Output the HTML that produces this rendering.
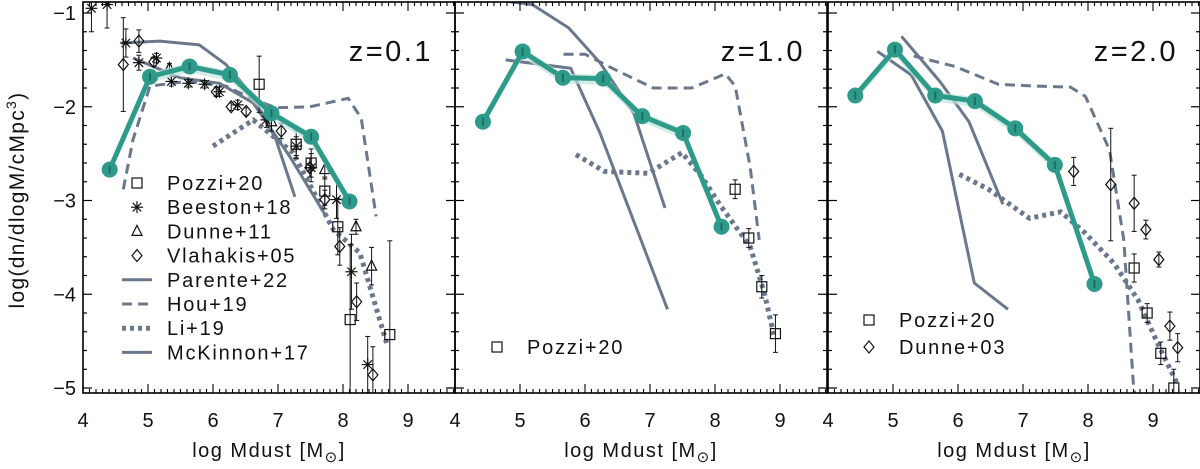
<!DOCTYPE html>
<html><head><meta charset="utf-8"><style>
html,body{margin:0;padding:0;background:#fff;}
svg{display:block;font-family:"Liberation Sans",sans-serif;}
</style></head><body>
<svg id="chart" width="1200" height="469" viewBox="0 0 1200 469" xmlns="http://www.w3.org/2000/svg"></svg>
<script>
// ---------- data ----------
const xTicks=[4,5,6,7,8,9];
const yTicks=[-1,-2,-3,-4,-5];
const yTickLabels=["\u22121","\u22122","\u22123","\u22124","\u22125"];
const panelLabels=["z=0.1","z=1.0","z=2.0"];

const teal1X=[4.41,5.03,5.64,6.26,6.90,7.51,8.10];
const teal1Y=[-2.67,-1.68,-1.57,-1.66,-2.07,-2.32,-3.01];
const teal2X=[4.43,5.04,5.66,6.28,6.88,7.51,8.10];
const teal2Y=[-2.16,-1.41,-1.69,-1.70,-2.10,-2.28,-3.28];
const teal3X=[4.42,5.03,5.65,6.26,6.88,7.49,8.10];
const teal3Y=[-1.88,-1.39,-1.88,-1.94,-2.23,-2.62,-3.89];

const parente1X=[4.59,5.18,5.79,6.20,6.62,6.97,7.26];
const parente1Y=[-1.32,-1.30,-1.34,-1.55,-1.89,-2.35,-2.96];
const mckinnon1X=[4.77,5.49,6.10,6.62,7.18,7.74];
const mckinnon1Y=[-1.48,-1.69,-1.75,-1.96,-2.53,-3.17];
const hou1X=[4.62,4.77,5.03,5.59,6.20,6.62,6.97,7.49,8.08,8.28,8.51];
const hou1Y=[-2.88,-2.35,-1.78,-1.73,-1.78,-1.92,-2.01,-2.00,-1.91,-2.12,-3.17];
const li1X=[6.00,6.62,7.23,7.85,8.26,8.67];
const li1Y=[-2.42,-2.14,-2.49,-3.31,-3.56,-4.52];

const parente2X=[4.50,5.19,5.75,6.23,6.75,7.23];
const parente2Y=[-0.85,-0.91,-1.16,-1.53,-2.07,-3.08];
const mckinnon2X=[4.78,5.78,6.23,7.27];
const mckinnon2Y=[-1.50,-1.59,-2.28,-4.16];
const hou2X=[5.67,6.00,6.45,7.05,7.64,8.16,8.31,8.54,8.68];
const hou2Y=[-1.44,-1.44,-1.60,-1.80,-1.80,-1.65,-1.78,-2.64,-3.42];
const li2X=[5.86,6.30,6.97,7.49,7.79,8.09,8.54,8.76,8.91];
const li2Y=[-2.51,-2.69,-2.71,-2.49,-2.74,-3.06,-3.49,-3.99,-4.45];

const parente3X=[5.13,5.72,6.17,6.69];
const parente3Y=[-1.25,-1.73,-2.16,-3.04];
const mckinnon3X=[4.76,5.28,5.76,6.25,6.77];
const mckinnon3Y=[-1.41,-1.66,-2.26,-3.88,-4.16];
const hou3X=[5.32,5.95,6.62,7.21,7.73,7.96,8.33,8.55,8.70,8.75];
const hou3Y=[-1.46,-1.57,-1.76,-1.78,-1.79,-1.89,-2.46,-3.42,-4.98,-5.2];
const li3X=[6.02,6.47,7.10,7.58,7.96,8.40,8.77,9.07,9.37];
const li3Y=[-2.72,-2.88,-3.19,-3.12,-3.35,-3.67,-4.06,-4.52,-4.95];

const pozzi1X=[6.71,7.28,7.51,7.72,7.92,8.11,8.72];
const pozzi1Y=[-1.76,-2.40,-2.60,-2.90,-3.28,-4.27,-4.43];
const pozzi1E=[0.3,0.15,0.15,0.15,0.3,0.8,1.0];
const beestonX=[4.13,4.37,4.66,4.86,5.13,5.36,5.62,5.87,6.10,6.38,6.82,7.28,7.51,7.90,8.13,8.38];
const beestonY=[-0.95,-0.91,-1.32,-1.53,-1.48,-1.73,-1.75,-1.76,-1.84,-1.98,-2.14,-2.42,-2.65,-2.99,-3.76,-4.75];
const beestonE=[0.25,0.25,0.15,0.08,0.05,0.05,0.04,0.04,0.05,0.05,0.08,0.1,0.15,0.2,0.4,0.3];
const dunne11X=[5.33,6.90,7.72,8.20,8.44];
const dunne11Y=[-1.59,-2.16,-2.67,-3.28,-3.70];
const dunne11E=[0.05,0.1,0.1,0.08,0.2];
const vlahakisX=[4.62,4.86,5.09,6.05,6.28,6.51,7.05,7.49,7.72,7.95,8.21,8.46];
const vlahakisY=[-1.55,-1.30,-1.52,-1.84,-2.00,-2.05,-2.26,-2.65,-2.99,-3.49,-4.08,-4.86];
const vlahakisE=[0.5,0.12,0.05,0.05,0.04,0.04,0.08,0.1,0.1,0.2,0.2,0.3];

const pozzi2X=[8.31,8.52,8.72,8.93];
const pozzi2Y=[-2.88,-3.40,-3.92,-4.42];
const pozzi2E=[0.1,0.1,0.12,0.2];
const pozzi3X=[8.71,8.91,9.12,9.32];
const pozzi3Y=[-3.72,-4.20,-4.63,-5.00];
const pozzi3E=[0.15,0.1,0.12,0.2];
const dunne03X=[7.78,8.35,8.71,8.89,9.09,9.26,9.38];
const dunne03Y=[-2.69,-2.83,-3.03,-3.31,-3.63,-4.34,-4.57];
const dunne03E=[0.15,0.6,0.3,0.1,0.08,0.15,0.15];

// ---------- layout ----------
const NS="http://www.w3.org/2000/svg";
const svg=document.getElementById('chart');
const panelLeft=[83,455,828], panelW=372, PT=2, PB=393;
const XMIN=4, PXU=65;
const yv=v=>13+(-1-v)*93.75;
const GREY="#6b788c", TEAL="#2e9a8a";
function el(tag,attrs,parent){const e=document.createElementNS(NS,tag);for(const k in attrs)e.setAttribute(k,attrs[k]);(parent||svg).appendChild(e);return e;}

function drawPanel(i){
  const L=panelLeft[i], R=L+panelW;
  const xv=v=>L+(v-XMIN)*PXU;
  const g=el('g',{});
  
  
  const cp=el('clipPath',{id:'cp'+i},g);
  el('rect',{x:L,y:PT,width:panelW,height:PB-PT},cp);
  const plot=el('g',{'clip-path':'url(#cp'+i+')'},g);
  
  
  return {g,plot,L,R,xv};
}
function line(P,xs,ys,style,name){
  const d=xs.map((x,k)=>(k?'L':'M')+P.xv(x).toFixed(1)+','+yv(ys[k]).toFixed(1)).join('');
  const a={d,fill:'none',stroke:GREY,'stroke-width':3,'stroke-linejoin':'round'};
  if(style==='dash')a['stroke-dasharray']='10,6';
  if(style==='dot'){a['stroke-dasharray']='4,4';a['stroke-width']=5;}
  const p=el('path',a,P.plot);
  
  
}
function teal(P,xs,ys,name){
  const up=xs.map((x,k)=>P.xv(x)+','+(yv(ys[k])-4)).join(' ');
  const dn=xs.slice().reverse().map((x,k)=>P.xv(x)+','+(yv(ys[xs.length-1-k])+6)).join(' ');
  const band=el('polygon',{points:up+' '+dn,fill:'#bfe6da',opacity:0.7},P.plot);
  
  
  const d=xs.map((x,k)=>(k?'L':'M')+P.xv(x)+','+yv(ys[k])).join('');
  const p=el('path',{d,fill:'none',stroke:TEAL,'stroke-width':5,'stroke-linejoin':'round'},P.plot);
  
  
  xs.forEach((x,k)=>{
    const c=el('circle',{cx:P.xv(x),cy:yv(ys[k]),r:8,fill:TEAL},P.plot);
    
    
    el('line',{x1:P.xv(x),x2:P.xv(x),y1:yv(ys[k])-4,y2:yv(ys[k])+4,stroke:'#1d6e62','stroke-width':2},P.plot);
  });
}
function marker(parent,type,cx,cy){
  if(type==='sq')return el('rect',{x:cx-5,y:cy-5,width:10,height:10,fill:'none',stroke:'#111','stroke-width':1.2},parent);
  if(type==='dia')return el('path',{d:`M${cx},${cy-6}L${cx+5},${cy}L${cx},${cy+6}L${cx-5},${cy}Z`,fill:'none',stroke:'#111','stroke-width':1.2},parent);
  if(type==='tri')return el('path',{d:`M${cx},${cy-6}L${cx+5},${cy+4}L${cx-5},${cy+4}Z`,fill:'none',stroke:'#111','stroke-width':1.2},parent);
  const g=el('g',{stroke:'#111','stroke-width':1.2},parent);
  for(let a=0;a<180;a+=45){const r=a*Math.PI/180;el('line',{x1:cx-6*Math.cos(r),y1:cy-6*Math.sin(r),x2:cx+6*Math.cos(r),y2:cy+6*Math.sin(r)},g);}
  return g;
}
function points(P,xs,ys,es,type,name){
  xs.forEach((x,k)=>{
    const cx=P.xv(x),cy=yv(ys[k]);
    const g=el('g',{},P.plot);
    
    
    el('line',{x1:cx,x2:cx,y1:yv(ys[k]+es[k]),y2:yv(ys[k]-es[k]),stroke:'#111','stroke-width':1},g);
    el('line',{x1:cx-2.5,x2:cx+2.5,y1:yv(ys[k]+es[k]),y2:yv(ys[k]+es[k]),stroke:'#111','stroke-width':1},g);
    el('line',{x1:cx-2.5,x2:cx+2.5,y1:yv(ys[k]-es[k]),y2:yv(ys[k]-es[k]),stroke:'#111','stroke-width':1},g);
    marker(g,type,cx,cy);
  });
}
function axes(P,i){
  const L=P.L,R=P.R,g=P.g;
  const fr=el('rect',{x:L,y:PT,width:panelW,height:PB-PT,fill:'none',stroke:'#000','stroke-width':1.6},g);
  
  
  for(let v=4;v<=9.72;v+=0.1){const x=P.xv(v);const maj=Math.abs(v-Math.round(v))<0.01;const t=maj?9:4;
    el('line',{x1:x,x2:x,y1:PB,y2:PB-t,stroke:'#000','stroke-width':1.1},g);
    el('line',{x1:x,x2:x,y1:PT,y2:PT+t,stroke:'#000','stroke-width':1.1},g);}
  for(let v=-1;v>=-5.05;v-=0.2){const y=yv(v);const maj=Math.abs(v-Math.round(v))<0.01;const t=maj?9:4;
    el('line',{x1:L,x2:L+t,y1:y,y2:y,stroke:'#000','stroke-width':1.2},g);
    el('line',{x1:R,x2:R-t,y1:y,y2:y,stroke:'#000','stroke-width':1.2},g);}
  xTicks.forEach(v=>{
    const t=el('text',{x:P.xv(v),y:427,'font-size':20,'text-anchor':'middle',fill:'#111'},g);
    t.textContent=v;
    
    
  });
  if(i===0){
    yTicks.forEach((v,k)=>{
      const t=el('text',{x:76,y:yv(v)+7,'font-size':20,'text-anchor':'end',fill:'#111'},g);
      t.textContent=yTickLabels[k];
      
      
    });
  }
  const xt=el('text',{x:L+186,y:457,'font-size':20,'letter-spacing':1.5,'text-anchor':'middle',fill:'#111'},g);
  
  
  xt.innerHTML='log  Mdust  [M<tspan font-size="15" dy="5">\u2299</tspan><tspan dy="-5">]</tspan>';
  const zl=el('text',{x:R-22,y:61,'font-size':29,'letter-spacing':2.5,'text-anchor':'end',fill:'#111'},g);
  zl.textContent=panelLabels[i];
  
  
}
function legendItem(P,x,y,kind,label){
  const g=el('g',{},P.g);
  
  
  if(kind==='solid'||kind==='dash'||kind==='dot'){
    const a={x1:x-15,x2:x+15,y1:y,y2:y,stroke:GREY,'stroke-width':3};
    if(kind==='dash')a['stroke-dasharray']='10,6';
    if(kind==='dot'){a['stroke-dasharray']='4,4';a['stroke-width']=5;}
    el('line',a,g);
  } else marker(g,kind,x,y);
  const t=el('text',{x:x+30,y:y+7,'font-size':20,'letter-spacing':1.8,fill:'#111'},g);
  t.textContent=label;
}

// panel 1
let P=drawPanel(0);
line(P,li1X,li1Y,'dot','li19-line');
line(P,hou1X,hou1Y,'dash','hou19-line');
line(P,parente1X,parente1Y,'solid','parente22-line');
line(P,mckinnon1X,mckinnon1Y,'solid','mckinnon17-line');
points(P,beestonX,beestonY,beestonE,'star','beeston18');
points(P,vlahakisX,vlahakisY,vlahakisE,'dia','vlahakis05');
points(P,dunne11X,dunne11Y,dunne11E,'tri','dunne11');
points(P,pozzi1X,pozzi1Y,pozzi1E,'sq','pozzi20');
teal(P,teal1X,teal1Y,'model-z01');
axes(P,0);
[['sq','Pozzi+20'],['star','Beeston+18'],['tri','Dunne+11'],['dia','Vlahakis+05'],['solid','Parente+22'],['dash','Hou+19'],['dot','Li+19'],['solid','McKinnon+17']]
 .forEach((e,k)=>legendItem(P,137,183+k*24.2,e[0],e[1]));

// panel 2
P=drawPanel(1);
line(P,li2X,li2Y,'dot','li19-line');
line(P,hou2X,hou2Y,'dash','hou19-line');
line(P,parente2X,parente2Y,'solid','parente22-line');
line(P,mckinnon2X,mckinnon2Y,'solid','mckinnon17-line');
points(P,pozzi2X,pozzi2Y,pozzi2E,'sq','pozzi20');
teal(P,teal2X,teal2Y,'model-z1');
axes(P,1);
legendItem(P,497,347,'sq','Pozzi+20');

// panel 3
P=drawPanel(2);
line(P,li3X,li3Y,'dot','li19-line');
line(P,hou3X,hou3Y,'dash','hou19-line');
line(P,parente3X,parente3Y,'solid','parente22-line');
line(P,mckinnon3X,mckinnon3Y,'solid','mckinnon17-line');
points(P,pozzi3X,pozzi3Y,pozzi3E,'sq','pozzi20');
points(P,dunne03X,dunne03Y,dunne03E,'dia','dunne03');
teal(P,teal3X,teal3Y,'model-z2');
axes(P,2);
legendItem(P,869,320,'sq','Pozzi+20');
legendItem(P,869,347,'dia','Dunne+03');

// y axis title
const yt=el('text',{x:0,y:0,'font-size':21,'letter-spacing':1.3,'text-anchor':'middle',fill:'#111',transform:'translate(24,200) rotate(-90)'});


yt.innerHTML='log(dn/dlogM/cMpc<tspan font-size="14" dy="-8">3</tspan><tspan dy="8">)</tspan>';
</script>
</body></html>
